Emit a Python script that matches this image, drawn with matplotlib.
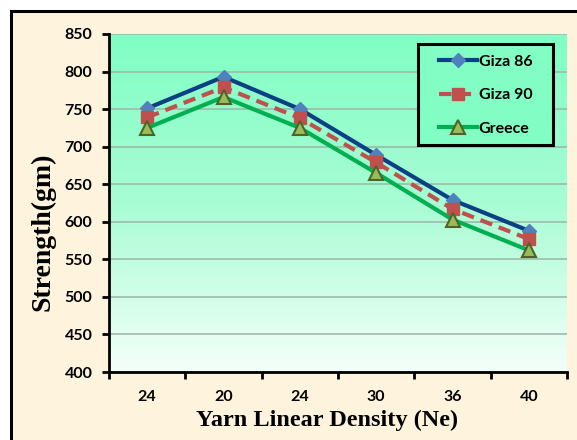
import numpy as np
import matplotlib.pyplot as plt
from matplotlib.patches import Rectangle
from matplotlib.colors import LinearSegmentedColormap

categories = ['24', '20', '24', '30', '36', '40']
giza86 = [751, 793, 750, 689, 629, 588]
giza90 = [739, 779, 738, 679, 617, 577]
greece = [725, 766, 725, 665, 603, 562]
y_ticks = [400, 450, 500, 550, 600, 650, 700, 750, 800, 850]

fig = plt.figure(figsize=(5.77, 4.40), dpi=100)
fig.patch.set_facecolor('white')
# cream chart area with black frame (cut off at right/bottom)
fig.patches.append(Rectangle((11 / 577, -0.05), 1.1, 1 - 11 / 440 + 0.05,
                             transform=fig.transFigure, facecolor='#FEF4DE',
                             edgecolor='black', linewidth=2.2, zorder=-5))

ax = fig.add_axes([109 / 577, 68 / 440, 458 / 577, 338 / 440])
ax.set_facecolor('none')

# gradient background of plot area
grad = np.linspace(0, 1, 256).reshape(-1, 1)
cmap = LinearSegmentedColormap.from_list('bg', ['#80FFC4', '#A8FCD4', '#F4FFF9'])
ax.imshow(grad, cmap=cmap, aspect='auto', extent=[0, 1, 0, 1],
          transform=ax.transAxes, zorder=0)

x = np.arange(len(categories))
ax.plot(x, giza86, color='#0B3F86', lw=3, marker='D', ms=7.5,
        mfc='#4F81BD', mec='#4F81BD', label='Giza 86', zorder=3)
ax.plot(x, giza90, color='#C0504D', lw=3, ls=(0, (3, 1.7)), marker='s', ms=9,
        mfc='#C0504D', mec='#C0504D', label='Giza 90', zorder=4)
ax.plot(x, greece, color='#00B050', lw=3, marker='^', ms=10,
        mfc='#9BBB59', mec='#4F6228', mew=1.5, label='Greece', zorder=5)

ax.set_xlim(-0.5, len(categories) - 0.5)
ax.set_ylim(400, 850)
ax.set_yticks(y_ticks)
ax.yaxis.grid(True, color='#9DBBAA', lw=1.2, zorder=1)
ax.set_axisbelow(True)

ax.set_xticks(np.arange(-0.5, len(categories)), labels=[])
ax.set_xticks(x, labels=categories, minor=True)
ax.tick_params(axis='x', which='major', length=5, width=2, direction='out')
ax.tick_params(axis='x', which='minor', length=0, pad=13)
ax.tick_params(axis='y', length=5, width=2, direction='out', pad=7)
for lab in ax.get_xticklabels(minor=True) + ax.get_yticklabels():
    lab.set_fontfamily('Lato')
    lab.set_fontweight('bold')
    lab.set_fontsize(11.5)

for s in ['top', 'right']:
    ax.spines[s].set_visible(False)
for s in ['left', 'bottom']:
    ax.spines[s].set_linewidth(2)

ax.set_xlabel('Yarn Linear Density (Ne)', family='Liberation Serif',
              fontweight='bold', fontsize=17.5)
ax.xaxis.set_label_coords(0.476, -0.112)
ax.set_ylabel('Strength(gm)', family='Liberation Serif',
              fontweight='bold', fontsize=20)
ax.yaxis.set_label_coords(-0.116, 0.414)

# legend box drawn separately so its padding can match
ax.add_patch(Rectangle((0.675, 0.672), 0.294, 0.298, transform=ax.transAxes,
                       facecolor='#82FEC5', edgecolor='black', lw=2.2, zorder=6))
leg = ax.legend(loc='center', bbox_to_anchor=(0.822, 0.819),
                prop={'family': 'Lato', 'weight': 'bold', 'size': 11.5},
                frameon=False, labelspacing=1.2,
                handlelength=2.4, handletextpad=0.1, borderpad=0)
leg.set_zorder(7)

fig.savefig('out.png', dpi=100)
